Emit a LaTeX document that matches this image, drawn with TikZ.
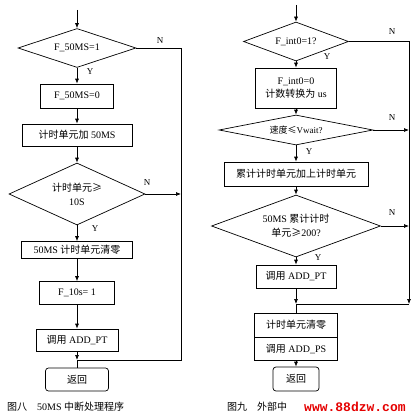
\documentclass[tikz,border=0pt]{standalone}
\usepackage{fontspec}
\setmainfont{Liberation Serif}
\newfontfamily\cjk{Noto Sans CJK SC}
\newfontfamily\wmfont{Liberation Mono}
\usetikzlibrary{shapes.geometric,arrows.meta}
\newcommand\zh[1]{{\cjk #1}}
\begin{document}
\begin{tikzpicture}[x=1pt,y=-1pt,
  box/.style={draw, line width=0.7pt, inner sep=0pt, font=\fontsize{10}{12}\selectfont, align=center},
  dia/.style={draw, diamond, line width=0.7pt, inner sep=0pt},
  txt/.style={inner sep=0pt, font=\fontsize{10}{12}\selectfont, align=center},
  lbl/.style={inner sep=0pt, font=\fontsize{9}{10}\selectfont},
  arr/.style={-{Latex[length=5pt,width=4pt]}, line width=0.7pt},
  ln/.style={line width=0.7pt}]
\useasboundingbox[fill=white] (0,0) rectangle (420,420);
% ---------- left chart ----------
\coordinate (s1) at (77,10);
\node[dia, minimum width=118pt, minimum height=39pt] (d1) at (77,48) {};
\node[txt] (t1) at (d1) {F\_50MS=1};
\node[box, minimum width=73pt, minimum height=24pt] (b1) at (77,96) {F\_50MS=0};
\node[box, minimum width=110pt, minimum height=22pt] (b2) at (77,135) {\zh{计时单元加} 50MS};
\node[dia, minimum width=136pt, minimum height=62pt] (d2) at (77,194) {};
\node[txt] (t2) at (d2) {\zh{计时单元≥}\\[2pt]10S};
\node[box, minimum width=111pt, minimum height=17pt] (b3) at (77,250) {50MS \zh{计时单元清零}};
\node[box, minimum width=75pt, minimum height=23pt] (b4) at (77,293) {F\_10s= 1};
\node[box, minimum width=82pt, minimum height=22pt] (b5) at (77,340) {\zh{调用} ADD\_PT};
\node[box, rounded corners=3pt, minimum width=63pt, minimum height=23pt] (r1) at (77,379.5) {\zh{返回}};
\coordinate (j1) at (77,360);
\coordinate (c1) at (181,48);
\coordinate (c2) at (181,194);
\coordinate (c3) at (181,360);
\draw[arr] (s1) -- (d1.north);
\draw[arr] (d1.south) -- (b1.north);
\draw[arr] (b1.south) -- (b2.north);
\draw[arr] (b2.south) -- (d2.north);
\draw[arr] (d2.south) -- (b3.north);
\draw[arr] (b3.south) -- (b4.north);
\draw[arr] (b4.south) -- (b5.north);
\draw[arr] (b5.south) -- (j1);
\draw[ln] (j1) -- (r1.north);
\draw[ln] (d1.east) -- (c1) -- (c3) -- (j1);
\draw[arr] (d2.east) -- (c2);
\node[lbl] (n1) at (160,41) {N};
\node[lbl] (y1) at (90,72) {Y};
\node[lbl] (n2) at (147,183) {N};
\node[lbl] (y2) at (95,229) {Y};
\node[anchor=west, inner sep=0pt, font=\fontsize{10}{12}\selectfont] (cap1) at (7,407) {\zh{图八}\quad 50MS \zh{中断处理程序}};
% ---------- right chart ----------
\coordinate (s2) at (296,5);
\node[dia, minimum width=105pt, minimum height=39pt] (e1) at (296,41.5) {};
\node[txt] (u1) at (e1) {F\_int0=1?};
\node[box, minimum width=81pt, minimum height=40pt] (g1) at (296,88) {F\_int0=0\\[1pt]\zh{计数转换为} us};
\node[dia, minimum width=154pt, minimum height=30pt] (e2) at (296,130) {};
\node[txt, font=\fontsize{9}{11}\selectfont] (u2) at (e2) {\zh{速度≤}Vwait?};
\node[box, minimum width=144pt, minimum height=24pt] (g2) at (296,174) {\zh{累计计时单元加上计时单元}};
\node[dia, minimum width=169pt, minimum height=62pt] (e3) at (296,226) {};
\node[txt] (u3) at (e3) {50MS \zh{累计计时}\\[2pt]\zh{单元≥}200?};
\node[box, minimum width=80pt, minimum height=23pt] (g3) at (296,276.5) {\zh{调用} ADD\_PT};
\node[box, minimum width=83pt, minimum height=24pt] (g4) at (296,325) {\zh{计时单元清零}};
\node[box, minimum width=83pt, minimum height=23pt, anchor=north] (g5) at (g4.south) {\zh{调用} ADD\_PS};
\node[box, rounded corners=3pt, minimum width=46pt, minimum height=24pt] (r2) at (296,379) {\zh{返回}};
\coordinate (j2) at (296,304);
\coordinate (k1) at (409,41.5);
\coordinate (k2) at (409,130);
\coordinate (k3) at (409,226);
\coordinate (k4) at (409,304);
\draw[arr] (s2) -- (e1.north);
\draw[arr] (e1.south) -- (g1.north);
\draw[arr] (g1.south) -- (e2.north);
\draw[arr] (e2.south) -- (g2.north);
\draw[arr] (g2.south) -- (e3.north);
\draw[arr] (e3.south) -- (g3.north);
\draw[arr] (g3.south) -- (j2);
\draw[ln] (j2) -- (g4.north);
\draw[arr] (g5.south) -- (r2.north);
\draw[arr] (e1.east) -- (k1) -- (k4);
\draw[ln] (k4) -- (j2);
\draw[arr] (e2.east) -- (k2);
\draw[arr] (e3.east) -- (k3);
\node[lbl] (n3) at (392,32) {N};
\node[lbl] (y3) at (327,57) {Y};
\node[lbl] (n4) at (392,118) {N};
\node[lbl] (y4) at (309,152) {Y};
\node[lbl] (n5) at (392,213) {N};
\node[lbl] (y5) at (318,258) {Y};
\node[anchor=west, inner sep=0pt, font=\fontsize{10}{12}\selectfont] (cap2) at (227,407) {\zh{图九}\quad\zh{外部中}};
\node[anchor=west, inner sep=0pt, text=red!90!black, font=\wmfont\bfseries\fontsize{13}{14}\selectfont] (wm) at (304,407) {www.88dzw.com};
\end{tikzpicture}
\end{document}
